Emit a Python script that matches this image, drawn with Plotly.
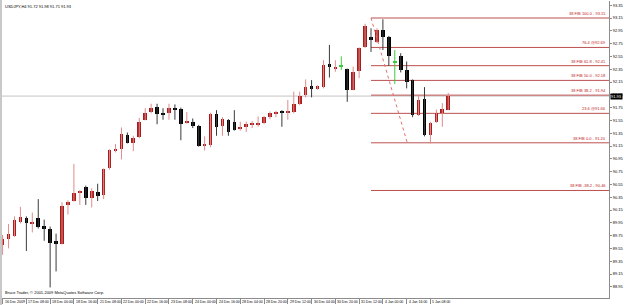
import plotly.graph_objects as go

# ---------------- data (USDJPY, H4) ----------------
opens = [89.60, 89.70, 89.75, 89.97, 90.03, 89.94, 90.03, 89.90, 89.85, 89.66,
         89.62, 90.23, 90.29, 90.42, 90.51, 90.34, 90.43, 90.38, 90.80, 91.08,
         91.10, 91.32, 91.20, 91.29, 91.56, 91.68, 91.76, 91.66, 91.66, 91.74,
         91.73, 91.51, 91.53, 91.46, 91.16, 91.17, 91.65, 91.46, 91.55, 91.52,
         91.42, 91.46, 91.48, 91.49, 91.51, 91.60, 91.65, 91.69, 91.67, 91.68,
         91.81, 91.95, 92.08, 92.05, 92.07, 92.43, 92.36, 92.40, 92.35, 92.03,
         92.32, 92.69, 92.85, 92.78, 92.96, 92.86, 92.47, 92.55, 92.34, 92.18,
         91.63, 91.88, 91.32, 91.53, 91.66, 91.72]
highs = [89.76, 89.93, 90.05, 90.20, 90.05, 90.11, 90.32, 90.00, 89.89, 89.78,
         90.27, 90.30, 90.87, 90.46, 90.53, 90.49, 90.56, 90.80, 91.10, 91.18,
         91.44, 91.36, 91.31, 91.59, 91.74, 91.81, 91.81, 91.74, 91.81, 91.80,
         91.75, 91.68, 91.58, 91.48, 91.30, 91.67, 91.71, 91.60, 91.57, 91.71,
         91.53, 91.53, 91.54, 91.61, 91.62, 91.69, 91.70, 91.71, 91.87, 92.00,
         92.00, 92.19, 92.18, 92.10, 92.49, 92.73, 92.49, 92.55, 92.36, 92.39,
         92.69, 93.06, 92.99, 92.99, 93.13, 92.87, 92.65, 92.60, 92.47, 92.19,
         91.95, 92.07, 91.53, 91.72, 91.82, 91.98]
lows = [89.45, 89.55, 89.73, 89.94, 89.51, 89.80, 89.86, 89.67, 88.94, 89.19,
        89.61, 90.08, 90.28, 90.23, 90.23, 90.19, 90.29, 90.32, 90.78, 91.05,
        90.94, 91.19, 91.07, 91.27, 91.55, 91.66, 91.49, 91.56, 91.56, 91.56,
        91.24, 91.50, 91.43, 91.14, 91.08, 91.13, 91.31, 91.31, 91.31, 91.39,
        91.39, 91.37, 91.43, 91.45, 91.49, 91.57, 91.60, 91.45, 91.56, 91.66,
        91.79, 91.91, 91.91, 92.03, 92.05, 92.22, 92.31, 92.34, 91.84, 92.02,
        92.21, 92.68, 92.62, 92.76, 92.65, 92.40, 92.12, 92.30, 92.05, 91.60,
        91.62, 91.30, 91.19, 91.51, 91.45, 91.71]
closes = [89.69, 89.77, 89.99, 90.04, 89.94, 89.96, 89.89, 89.86, 89.64, 89.62,
          90.22, 90.28, 90.41, 90.43, 90.34, 90.44, 90.37, 90.79, 91.09, 91.11,
          91.33, 91.20, 91.28, 91.53, 91.66, 91.75, 91.65, 91.65, 91.74, 91.72,
          91.50, 91.53, 91.47, 91.15, 91.18, 91.65, 91.45, 91.57, 91.37, 91.40,
          91.45, 91.49, 91.51, 91.51, 91.61, 91.66, 91.68, 91.68, 91.70, 91.81,
          91.93, 92.07, 92.04, 92.08, 92.42, 92.38, 92.38, 92.40, 92.03, 92.31,
          92.68, 93.03, 92.80, 92.96, 92.86, 92.55, 92.47, 92.34, 92.15, 91.63,
          91.87, 91.32, 91.51, 91.67, 91.73, 91.93]
green_bars = [57, 66]

date_labels = ["16 Dec 2009", "17 Dec 08:00", "18 Dec 00:00", "18 Dec 16:00",
               "21 Dec 08:00", "22 Dec 00:00", "22 Dec 16:00", "23 Dec 08:00",
               "24 Dec 00:00", "24 Dec 16:00", "28 Dec 04:00", "28 Dec 20:00",
               "29 Dec 12:00", "30 Dec 04:00", "30 Dec 20:00", "31 Dec 12:00",
               "4 Jan 00:00", "4 Jan 16:00", "5 Jan 08:00"]
label_every = 4

fib_high = 93.15
fib_low = 91.20
fib_start_bar = 62.0
fib_end_bar = 68.1
fib_levels = [100.0, 76.4, 61.8, 50.0, 38.2, 23.6, 0.0, -38.2]
fib_names = ["38 FIB 100.0 - ", "76.4 @", "38 FIB 61.8 - ", "38 FIB 50.0 - ",
             "38 FIB 38.2 - ", "23.6 @", "38 FIB 0.0 - ", "38 FIB -38.2 - "]

symbol = "USDJPY,H4"
copyright_text = "Bruce Trader, \u00a9 2001-2009 MetaQuotes Software Corp."

# ---------------- styling ----------------
RED_BODY = "#A81C1C"
RED_WICK = "#E08C8C"
BLACK_BODY = "#000000"
BLACK_WICK = "#3A3A3A"
GREEN = "#3CCB3C"
FIB_COLOR = "#BC5050"
FONT = "Liberation Sans"
FS = 4
FS_DATE = 3.5

x_range = [-0.1, 102.05]
y_range = [88.775, 93.4156]
min_body = 0.016

groups = {"red": ([], [], [], [], []), "black": ([], [], [], [], []), "green": ([], [], [], [], [])}
for i, (o, h, l, c) in enumerate(zip(opens, highs, lows, closes)):
    if i in green_bars:
        g = "green"
    elif c >= o:
        g = "red"
    else:
        g = "black"
    bx, bb, bh, wx, wy = groups[g]
    lo_b = min(o, c)
    hgt = max(abs(c - o), min_body)
    if abs(c - o) < min_body:
        lo_b = (o + c) / 2 - min_body / 2
    bx.append(i); bb.append(lo_b); bh.append(hgt)
    wx += [i, i, None]; wy += [l, h, None]

style = {"red": (RED_BODY, RED_WICK), "black": (BLACK_BODY, BLACK_WICK), "green": (GREEN, GREEN)}

fig = go.Figure()
for g, (bx, bb, bh, wx, wy) in groups.items():
    fig.add_trace(go.Scatter(x=wx, y=wy, mode="lines", line=dict(color=style[g][1], width=1),
                             hoverinfo="skip", showlegend=False))
for g, (bx, bb, bh, wx, wy) in groups.items():
    fig.add_trace(go.Bar(x=bx, y=bh, base=bb, width=0.62, marker=dict(color=style[g][0], line=dict(width=0)),
                         hoverinfo="skip", showlegend=False))

shapes = []
# bid line
shapes.append(dict(type="line", xref="x", yref="y", x0=x_range[0], x1=x_range[1],
                   y0=closes[-1], y1=closes[-1], line=dict(color="#C4C4C4", width=1), layer="below"))
annotations = []
# fibonacci levels
for lvl, name in zip(fib_levels, fib_names):
    price = fib_low + (fib_high - fib_low) * lvl / 100.0
    shapes.append(dict(type="line", xref="x", yref="y", x0=fib_start_bar, x1=x_range[1],
                       y0=price, y1=price, line=dict(color=FIB_COLOR, width=1), layer="below"))
    annotations.append(dict(xref="paper", yref="y", x=1, y=price, xanchor="right", yanchor="bottom",
                            xshift=-1, yshift=0, text=f"{name}{price:.2f}", showarrow=False,
                            font=dict(family=FONT, size=FS, color="#C02020")))
# fib trend line
shapes.append(dict(type="line", xref="x", yref="y", x0=fib_start_bar, x1=fib_end_bar,
                   y0=fib_high, y1=fib_low, line=dict(color="#E07070", width=1, dash="dot")))
# left border strip
shapes.append(dict(type="rect", xref="paper", yref="paper", x0=-2 / 610, x1=0, y0=-7 / 297, y1=1 + 1 / 297,
                   fillcolor="#C8C8C8", line=dict(width=0)))

# date labels
tick_bars = [k * label_every for k in range(len(date_labels))]
for b, t in zip(tick_bars, date_labels):
    annotations.append(dict(xref="x", yref="paper", x=b, y=0, xanchor="left", yanchor="top",
                            xshift=0, yshift=0, text=t, showarrow=False,
                            font=dict(family=FONT, size=FS_DATE, color="#000000")))
# price box
annotations.append(dict(xref="paper", yref="y", x=1, y=closes[-1], xanchor="left", yanchor="middle",
                        xshift=1, text=f"{closes[-1]:.2f}", showarrow=False, bgcolor="#000000",
                        borderpad=0, font=dict(family=FONT, size=FS, color="#FFFFFF")))
# title
annotations.append(dict(xref="paper", yref="paper", x=0, y=1, xanchor="left", yanchor="top", xshift=1, yshift=-1,
                        text=f"{symbol} {opens[-1]:.2f} {highs[-1]:.2f} {lows[-1]:.2f} {closes[-1]:.2f}",
                        showarrow=False, font=dict(family=FONT, size=FS, color="#000000")))
# copyright
annotations.append(dict(xref="paper", yref="paper", x=0, y=0, xanchor="left", yanchor="bottom", xshift=1, yshift=1,
                        text=copyright_text, showarrow=False, font=dict(family=FONT, size=FS, color="#000000")))

fig.update_layout(
    width=625, height=305,
    margin=dict(l=2, r=13, t=1, b=7),
    paper_bgcolor="#FFFFFF", plot_bgcolor="#FFFFFF",
    barmode="overlay", bargap=0,
    showlegend=False,
    shapes=shapes, annotations=annotations,
    xaxis=dict(range=x_range, showgrid=False, zeroline=False, showline=True, linecolor="#8C8C8C",
               linewidth=1, ticks="outside", ticklen=5, tickcolor="#8C8C8C", tickvals=tick_bars,
               showticklabels=False, fixedrange=True),
    yaxis=dict(range=y_range, side="right", showgrid=False, zeroline=False, showline=True,
               linecolor="#8C8C8C", linewidth=1, ticks="outside", ticklen=2, tickcolor="#8C8C8C",
               tick0=88.75, dtick=0.2, tickformat=".2f",
               tickfont=dict(family=FONT, size=FS, color="#000000"), fixedrange=True),
)

fig.write_html("out.html")
